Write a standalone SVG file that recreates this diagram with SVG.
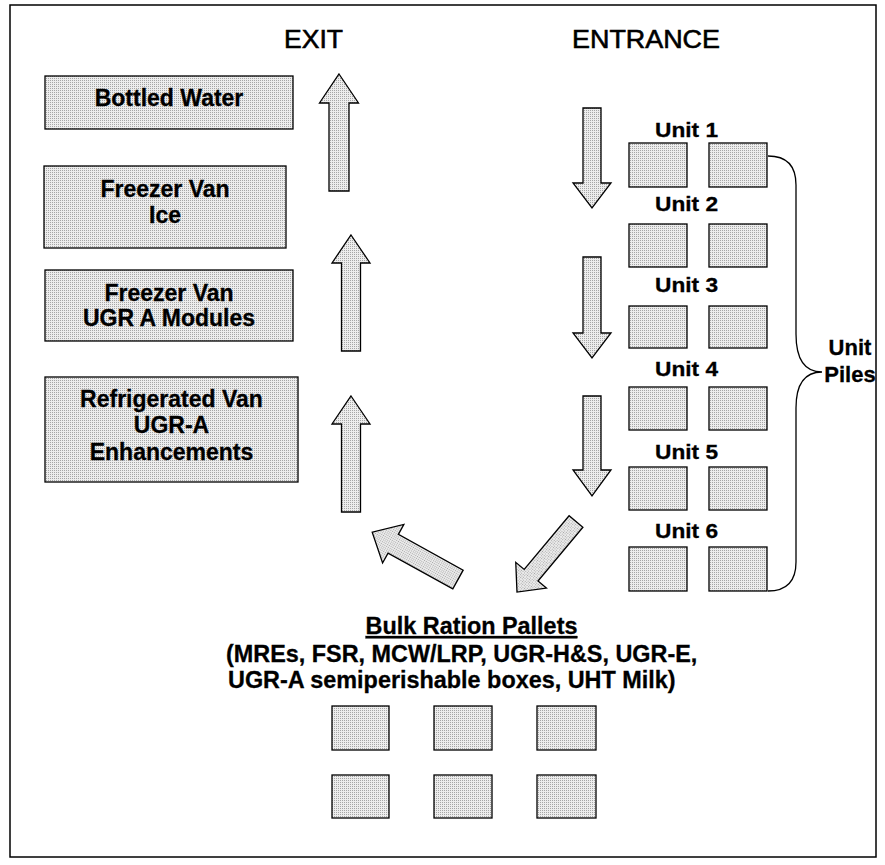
<svg xmlns="http://www.w3.org/2000/svg" width="885" height="865" viewBox="0 0 885 865">
<defs>
<pattern id="dots" width="2" height="2" patternUnits="userSpaceOnUse">
<rect width="2" height="2" fill="#ededed"/>
<rect width="1" height="1" fill="#a6a6a6"/>
</pattern>
<style>
.box{fill:url(#dots);stroke:#000;stroke-width:1.3}
.arrow{fill:url(#dots);stroke:#000;stroke-width:1.3;stroke-linejoin:miter}
.lbl{font-family:"Liberation Sans",Arial,sans-serif;font-weight:bold;font-size:23px;fill:#000;stroke:#000;stroke-width:0.3;text-anchor:middle}
.hdr{font-family:"Liberation Sans",Arial,sans-serif;font-size:26px;fill:#000;stroke:#000;stroke-width:0.6}
.unit{font-family:"Liberation Sans",Arial,sans-serif;font-weight:bold;font-size:21px;fill:#000;stroke:#000;stroke-width:0.3}
.bulk{font-family:"Liberation Sans",Arial,sans-serif;font-weight:bold;font-size:23.4px;fill:#000;stroke:#000;stroke-width:0.3}
</style>
</defs>
<rect x="10" y="5" width="866" height="852" fill="#fff" stroke="#000" stroke-width="1.5"/>

<g id="headers">
<text class="hdr" x="284" y="48" textLength="59" lengthAdjust="spacingAndGlyphs">EXIT</text>
<text class="hdr" x="572" y="48" textLength="148" lengthAdjust="spacingAndGlyphs">ENTRANCE</text>
</g>

<g id="bottled-water">
<rect class="box" x="45" y="76" width="248" height="53"/>
<text class="lbl" x="169" y="106">Bottled Water</text>
</g>
<g id="freezer-ice">
<rect class="box" x="44" y="166" width="242" height="82"/>
<text class="lbl" x="165" y="197">Freezer Van</text>
<text class="lbl" x="165" y="223">Ice</text>
</g>
<g id="freezer-ugr">
<rect class="box" x="45" y="270" width="248" height="71"/>
<text class="lbl" x="169" y="301">Freezer Van</text>
<text class="lbl" x="169" y="326">UGR A Modules</text>
</g>
<g id="refrigerated">
<rect class="box" x="45" y="377" width="253" height="105"/>
<text class="lbl" x="171.5" y="407">Refrigerated Van</text>
<text class="lbl" x="171.5" y="433">UGR-A</text>
<text class="lbl" x="171.5" y="460">Enhancements</text>
</g>

<g id="unit-1">
<text class="unit" x="655" y="137" textLength="63" lengthAdjust="spacingAndGlyphs">Unit 1</text>
<rect class="box" x="629" y="143" width="58" height="44"/>
<rect class="box" x="709" y="143" width="58" height="44"/>
</g>
<g id="unit-2">
<text class="unit" x="655" y="211" textLength="63" lengthAdjust="spacingAndGlyphs">Unit 2</text>
<rect class="box" x="629" y="224" width="58" height="43"/>
<rect class="box" x="709" y="224" width="58" height="43"/>
</g>
<g id="unit-3">
<text class="unit" x="655" y="292" textLength="63" lengthAdjust="spacingAndGlyphs">Unit 3</text>
<rect class="box" x="629" y="306" width="58" height="42"/>
<rect class="box" x="709" y="306" width="58" height="42"/>
</g>
<g id="unit-4">
<text class="unit" x="655" y="376" textLength="63" lengthAdjust="spacingAndGlyphs">Unit 4</text>
<rect class="box" x="629" y="387" width="58" height="43"/>
<rect class="box" x="709" y="387" width="58" height="43"/>
</g>
<g id="unit-5">
<text class="unit" x="655" y="459" textLength="63" lengthAdjust="spacingAndGlyphs">Unit 5</text>
<rect class="box" x="629" y="467" width="58" height="43"/>
<rect class="box" x="709" y="467" width="58" height="43"/>
</g>
<g id="unit-6">
<text class="unit" x="655" y="538" textLength="63" lengthAdjust="spacingAndGlyphs">Unit 6</text>
<rect class="box" x="629" y="547" width="58" height="44"/>
<rect class="box" x="709" y="547" width="58" height="44"/>
</g>

<g id="unit-piles">
<path d="M768,156 Q796,156 796,185 L796,334 Q796,372 822,372 Q796,372 796,408 L796,562 Q796,591 768,591" fill="none" stroke="#000" stroke-width="1.3"/>
<text class="unit" x="850" y="355" text-anchor="middle" style="font-size:22px">Unit</text>
<text class="unit" x="850" y="382" text-anchor="middle" style="font-size:22px">Piles</text>
</g>

<g id="bulk-pallets">
<text class="bulk" x="471.5" y="634" text-anchor="middle" text-decoration="underline">Bulk Ration Pallets</text>
<text class="bulk" x="226" y="662">(MREs, FSR, MCW/LRP, UGR-H&amp;S, UGR-E,</text>
<text class="bulk" x="228" y="688">UGR-A semiperishable boxes, UHT Milk)</text>
<rect class="box" x="332" y="706" width="57" height="44"/>
<rect class="box" x="434" y="706" width="58" height="44"/>
<rect class="box" x="537" y="706" width="59" height="44"/>
<rect class="box" x="332" y="775" width="57" height="43"/>
<rect class="box" x="434" y="775" width="58" height="43"/>
<rect class="box" x="537" y="775" width="59" height="43"/>
</g>

<g id="connectors">
<polygon class="arrow" points="339,74 358.5,103 349,103 349,191 329,191 329,103 319.5,103"/>
<polygon class="arrow" points="351,235 370,263 360.5,263 360.5,351 341.5,351 341.5,263 332,263"/>
<polygon class="arrow" points="351,396 370,424 360.5,424 360.5,512 341.5,512 341.5,424 332,424"/>
<polygon class="arrow" points="583,108 601,108 601,183 611,183 592,208 573,183 583,183"/>
<polygon class="arrow" points="583,257 601,257 601,333 611,333 592,358 573,333 583,333"/>
<polygon class="arrow" points="583,396 601,396 601,470 611,470 592,496 573,470 583,470"/>
<polygon class="arrow" transform="translate(576,521.5) rotate(129.9)" points="0,-9 70,-9 70,-20 92,0 70,20 70,9 0,9"/>
<polygon class="arrow" transform="translate(458,579.5) rotate(208.9)" points="0,-10.7 74,-10.7 74,-22 98,0 74,22 74,10.7 0,10.7"/>
</g>
</svg>
